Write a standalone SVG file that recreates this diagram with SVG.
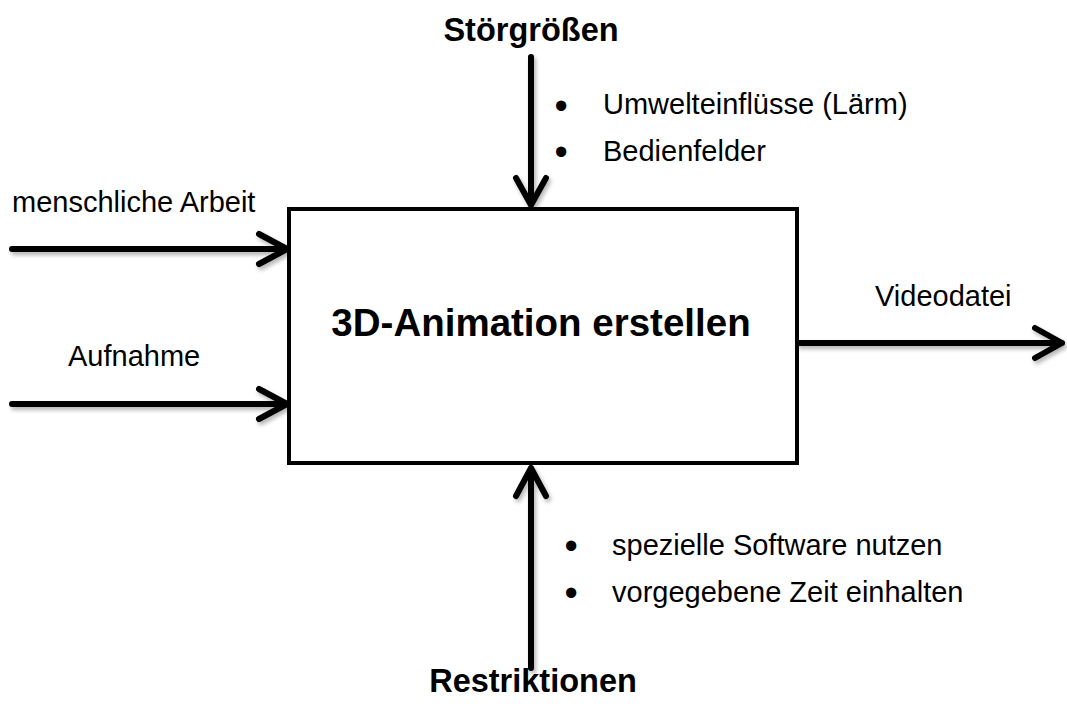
<svg xmlns="http://www.w3.org/2000/svg" width="1067" height="707" viewBox="0 0 1067 707">
<style>
.t{font-family:"Liberation Sans",Arial,sans-serif;fill:#000}
.s{font-size:29px}
.d{font-size:38px}
.b{font-weight:bold}
.h{font-size:32.5px}
.ln{fill:none;stroke:#000;stroke-width:6;stroke-linecap:round;stroke-linejoin:round}
</style>
<defs>
<filter id="sh" x="-10%" y="-10%" width="130%" height="130%">
<feGaussianBlur in="SourceAlpha" stdDeviation="2"/>
<feOffset dx="2" dy="3" result="o"/>
<feComponentTransfer><feFuncA type="linear" slope="0.3"/></feComponentTransfer>
<feMerge><feMergeNode/><feMergeNode in="SourceGraphic"/></feMerge>
</filter>
</defs>
<rect width="1067" height="707" fill="#fff"/>
<g id="connectors" filter="url(#sh)">
<path class="ln" d="M12 249 H287 M259 234 L287 249 L259 264"/>
<path class="ln" d="M12 404 H287 M259 389 L287 404 L259 419"/>
<path class="ln" d="M531 57 V205 M516 178 L531 205 L546 178"/>
<path class="ln" d="M531 668 V468 M516 496 L531 468 L546 496"/>
<path class="ln" d="M799 343 H1062 M1035 328 L1062 343 L1035 358"/>
</g>
<g id="process">
<rect x="289" y="209" width="508" height="254" fill="#fff" stroke="#000" stroke-width="4"/>
<text class="t b" x="541" y="336" font-size="38.5" text-anchor="middle">3D-Animation erstellen</text>
</g>
<g id="stoergroessen">
<text class="t b h" x="531" y="41" text-anchor="middle">Störgrößen</text>
<text class="t d" x="554.5" y="118.5">•</text>
<text class="t s" x="603" y="114">Umwelteinflüsse (Lärm)</text>
<text class="t d" x="554.5" y="164.5">•</text>
<text class="t s" x="603" y="161">Bedienfelder</text>
</g>
<g id="restriktionen">
<text class="t b h" x="533" y="692" text-anchor="middle">Restriktionen</text>
<text class="t d" x="564.5" y="558.5">•</text>
<text class="t s" x="612" y="555">spezielle Software nutzen</text>
<text class="t d" x="564.5" y="605.5">•</text>
<text class="t s" x="612" y="602">vorgegebene Zeit einhalten</text>
</g>
<g id="input1"><text class="t s" x="12" y="212">menschliche Arbeit</text></g>
<g id="input2"><text class="t s" x="68" y="366">Aufnahme</text></g>
<g id="output"><text class="t s" x="875" y="306">Videodatei</text></g>
</svg>
